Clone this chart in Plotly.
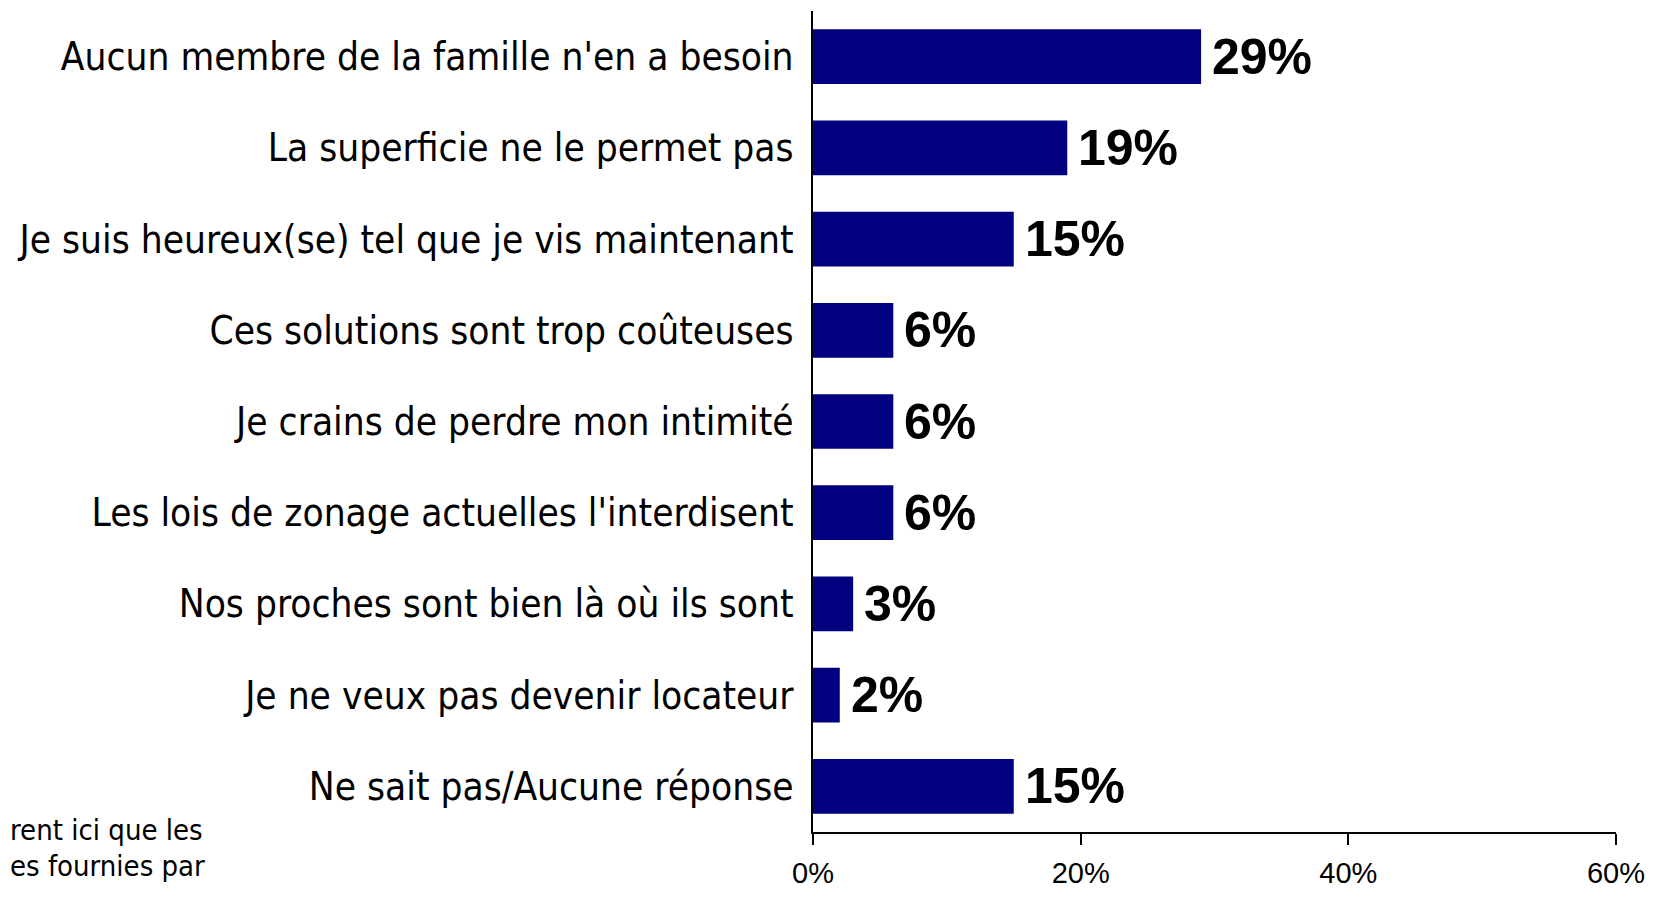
import plotly.graph_objects as go

categories = [
    "Aucun membre de la famille n'en a besoin",
    "La superficie ne le permet pas",
    "Je suis heureux(se) tel que je vis maintenant",
    "Ces solutions sont trop coûteuses",
    "Je crains de perdre mon intimité",
    "Les lois de zonage actuelles l'interdisent",
    "Nos proches sont bien là où ils sont",
    "Je ne veux pas devenir locateur",
    "Ne sait pas/Aucune réponse",
]
values = [29, 19, 15, 6, 6, 6, 3, 2, 15]
value_labels = ["29%", "19%", "15%", "6%", "6%", "6%", "3%", "2%", "15%"]
tick_vals = [0, 20, 40, 60]
tick_text = ["0%", "20%", "40%", "60%"]
# only the visible part of the (cropped) footnote in the reference
footnote_lines = ["rent ici que les", "es fournies par"]

NARROW = "DejaVu Sans Condensed, Liberation Sans Narrow, Arial Narrow, sans-serif"
REG = "Liberation Sans, Arial, sans-serif"

# page body has an 8px margin; figure sized to fit the window
W, H = 1640, 881
L, R, T, B = 805, 32, 3, 57
PW, PH = W - L - R, H - T - B

fig = go.Figure()
fig.add_trace(go.Bar(
    y=categories,
    x=values,
    orientation="h",
    marker=dict(color="#000080", line=dict(width=0)),
    width=0.6,
    hoverinfo="x+y",
))

for cat, v, lab in zip(categories, values, value_labels):
    fig.add_annotation(
        x=v, y=cat, xref="x", yref="y", text=lab, showarrow=False,
        xanchor="left", yanchor="middle", xshift=9,
        font=dict(family=REG, size=50, color="black", weight="bold"),
    )

fig.update_layout(
    width=W, height=H,
    margin=dict(l=L, r=R, t=T, b=B, autoexpand=False),
    plot_bgcolor="white", paper_bgcolor="white",
    showlegend=False,
    xaxis=dict(
        range=[0, 60], tickvals=tick_vals, ticktext=tick_text,
        showgrid=False, zeroline=False,
        showline=True, linecolor="black", linewidth=2,
        ticks="outside", ticklen=11, tickwidth=1.5, tickcolor="black",
        tickfont=dict(family=REG, size=29, color="black"),
        ticklabelstandoff=3,
        ticklabeloverflow="allow",
        fixedrange=True,
    ),
    yaxis=dict(
        categoryorder="array", categoryarray=categories[::-1],
        range=[-0.5, 8.5],
        showgrid=False, zeroline=False,
        showline=True, linecolor="black", linewidth=1.5,
        ticks="", ticklabelstandoff=10,
        tickfont=dict(family=NARROW, size=38.5, color="black"),
        fixedrange=True,
    ),
)

foot_x_px = [0, 0]
foot_y_px = [822, 858]
for line, xpx, ypx in zip(footnote_lines, foot_x_px, foot_y_px):
    fig.add_annotation(
        text=line, xref="paper", yref="paper",
        x=(xpx - L) / PW, y=((H - B) - ypx) / PH,
        xanchor="left", yanchor="middle", showarrow=False,
        font=dict(family=NARROW, size=29, color="black"),
    )

fig.write_html("out.html")
